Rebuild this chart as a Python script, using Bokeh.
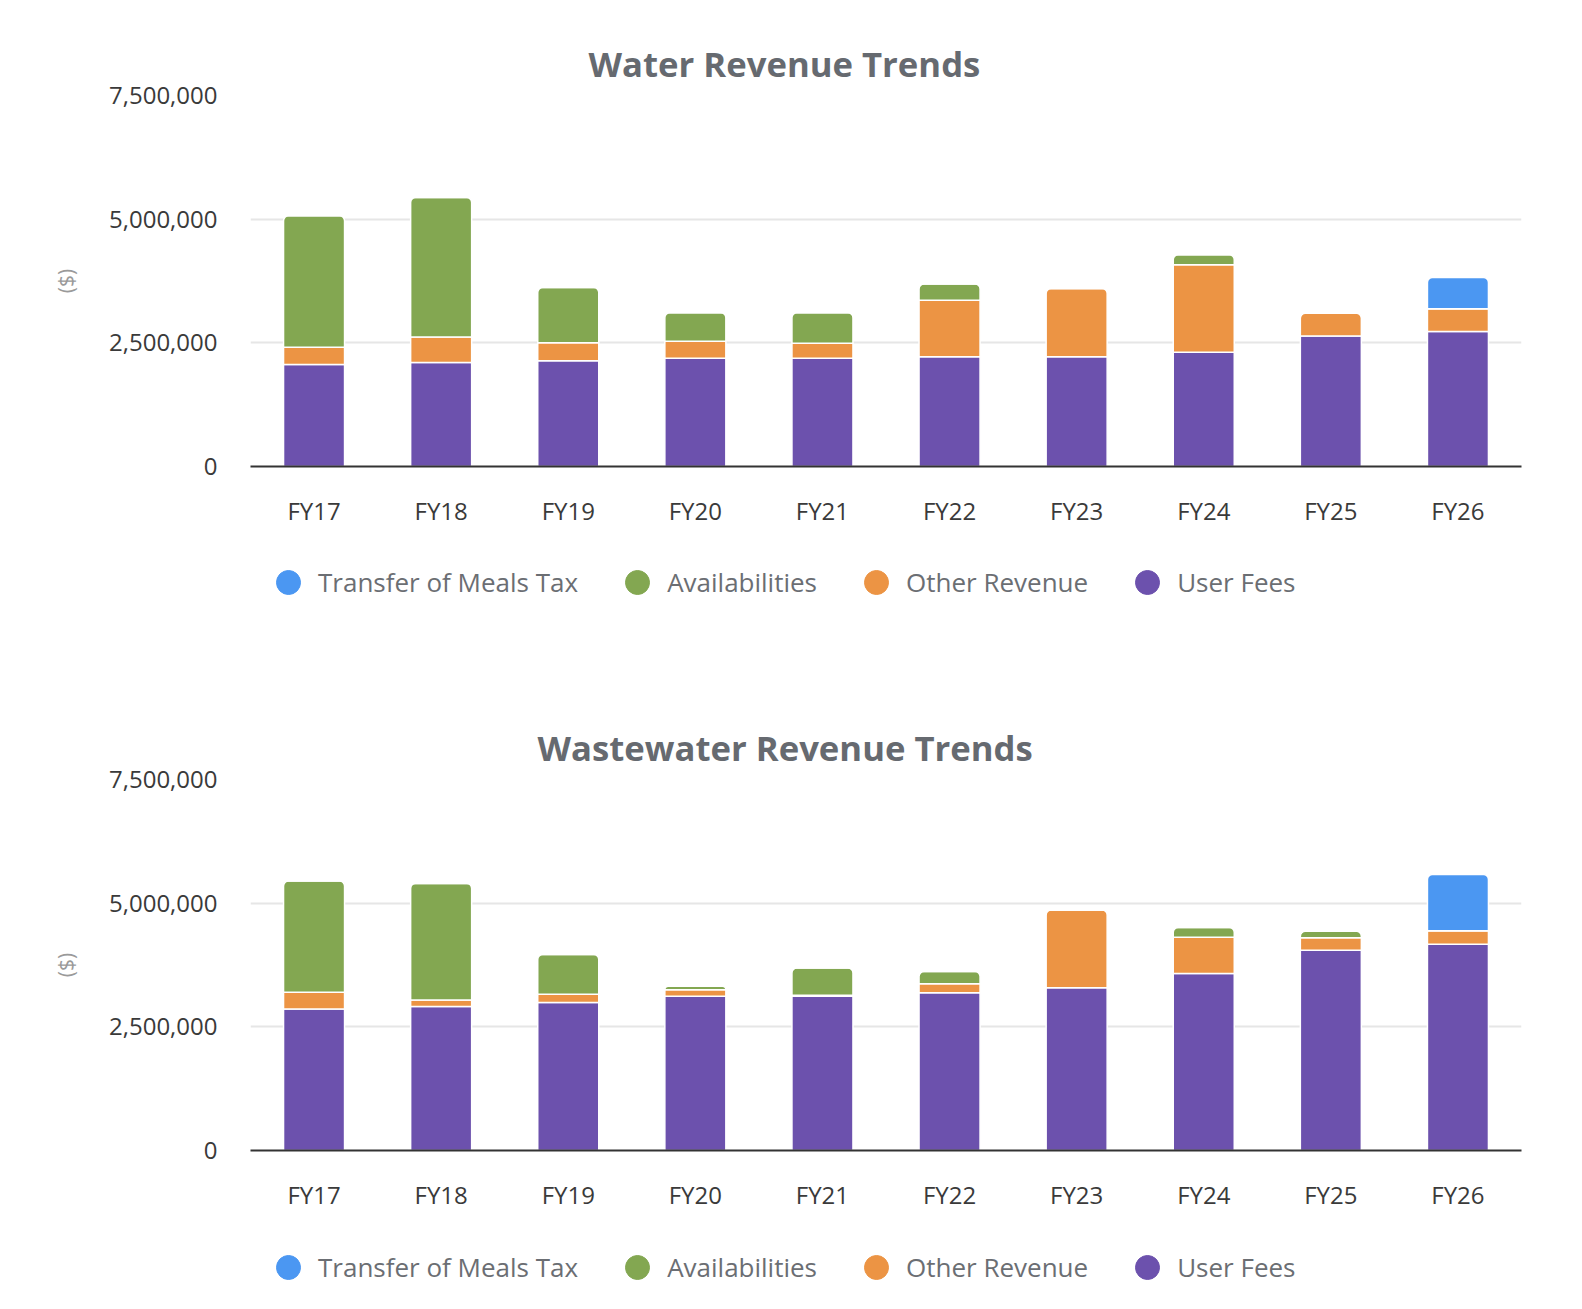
from bokeh.plotting import figure
from bokeh.models import (ColumnDataSource, FactorRange, Range1d, FixedTicker,
                          NumeralTickFormatter, Legend, LegendItem, Title)
from bokeh.layouts import column
from bokeh.embed import file_html
from bokeh.resources import INLINE

years = ["FY17", "FY18", "FY19", "FY20", "FY21", "FY22", "FY23", "FY24", "FY25", "FY26"]

# Water revenue (millions of $)
water_user_fees = [2.06, 2.10, 2.14, 2.19, 2.19, 2.22, 2.22, 2.31, 2.64, 2.73]
water_other_revenue = [0.35, 0.52, 0.36, 0.34, 0.30, 1.14, 1.38, 1.77, 0.46, 0.46]
water_availabilities = [2.66, 2.82, 1.12, 0.58, 0.62, 0.33, 0.0, 0.20, 0.0, 0.0]
water_meals_tax = [0, 0, 0, 0, 0, 0, 0, 0, 0, 0.63]

# Wastewater revenue (millions of $)
ww_user_fees = [2.86, 2.91, 2.99, 3.12, 3.12, 3.19, 3.29, 3.58, 4.05, 4.17]
ww_other_revenue = [0.34, 0.13, 0.17, 0.13, 0.02, 0.18, 1.57, 0.73, 0.25, 0.27]
ww_availabilities = [2.25, 2.36, 0.80, 0.07, 0.55, 0.25, 0.0, 0.20, 0.13, 0.0]
ww_meals_tax = [0, 0, 0, 0, 0, 0, 0, 0, 0, 1.14]

series_names = ["User Fees", "Other Revenue", "Availabilities", "Transfer of Meals Tax"]
legend_order = ["Transfer of Meals Tax", "Availabilities", "Other Revenue", "User Fees"]
y_ticks = [0, 2500000, 5000000, 7500000]

COLORS = {
    "User Fees": "#6c51ad",
    "Other Revenue": "#ec9444",
    "Availabilities": "#83a751",
    "Transfer of Meals Tax": "#4b97f2",
}

FONT = "Open Sans"
FRAME_H = 371
FIG_W = 1590


def make_chart(title, title_offset, series, top, height):
    p = figure(x_range=FactorRange(*years), y_range=Range1d(0, 7500000),
               width=FIG_W, height=height, output_backend="svg",
               toolbar_location=None, min_border_left=250, min_border_right=69,
               min_border_top=top, min_border_bottom=height - top - FRAME_H)
    p.outline_line_color = None

    # stacked segments; the topmost segment of each bar gets rounded corners
    n = len(years)
    bottoms = [0.0] * n
    topmost = [max(i for i, s in enumerate(series) if s[k] > 0) for k in range(n)]
    for si, vals in enumerate(series):
        groups = {True: dict(year=[], bottom=[], top=[]), False: dict(year=[], bottom=[], top=[])}
        for k in range(n):
            v = vals[k] * 1e6
            g = groups[topmost[k] == si]
            g["year"].append(years[k])
            g["bottom"].append(bottoms[k])
            g["top"].append(bottoms[k] + v)
            bottoms[k] += v
        c = COLORS[series_names[si]]
        p.vbar(x="year", bottom="bottom", top="top", width=0.48,
               source=ColumnDataSource(groups[False]),
               fill_color=c, line_color="white", line_width=1.5)
        p.vbar(x="year", bottom="bottom", top="top", width=0.48,
               source=ColumnDataSource(groups[True]), border_radius=(5, 5, 0, 0),
               fill_color=c, line_color="white", line_width=1.5)

    p.xgrid.grid_line_color = None
    p.ygrid.grid_line_color = "#e6e6e6"
    p.ygrid.grid_line_width = 2

    p.yaxis.ticker = FixedTicker(ticks=y_ticks)
    p.yaxis.formatter = NumeralTickFormatter(format="0,0")
    p.yaxis.axis_line_color = None
    p.yaxis.major_tick_line_color = None
    p.yaxis.minor_tick_line_color = None
    p.yaxis.major_label_text_font = FONT
    p.yaxis.major_label_text_font_size = "24px"
    p.yaxis.major_label_text_color = "#3a3a3a"
    p.yaxis.major_label_standoff = 27
    p.yaxis.axis_label = "($)"
    p.yaxis.axis_label_text_font = FONT
    p.yaxis.axis_label_text_font_style = "normal"
    p.yaxis.axis_label_text_font_size = "21px"
    p.yaxis.axis_label_text_color = "#9a9a9a"
    p.yaxis.axis_label_standoff = 26

    p.xaxis.axis_line_color = "#333333"
    p.xaxis.axis_line_width = 2
    p.xaxis.major_tick_line_color = None
    p.xaxis.minor_tick_line_color = None
    p.xaxis.major_label_text_font = FONT
    p.xaxis.major_label_text_font_size = "24px"
    p.xaxis.major_label_text_color = "#3a3a3a"
    p.xaxis.major_label_standoff = 21

    p.add_layout(Title(text=title, align="left", offset=title_offset,
                       vertical_align="bottom", standoff=18,
                       text_font=FONT, text_font_size="34.7px", text_font_style="bold",
                       text_color="#666a70"), "above")
    return p


def make_legend(height, loc_y):
    q = figure(width=FIG_W, height=height, output_backend="svg", toolbar_location=None,
               x_axis_location=None, y_axis_location=None, min_border=0,
               x_range=Range1d(0, 1), y_range=Range1d(0, 1))
    q.outline_line_color = None
    q.grid.visible = False
    items = []
    for name in legend_order:
        c = COLORS[name]
        r = q.scatter(x=[float("nan")], y=[float("nan")], marker="circle", size=24,
                      fill_color=c, line_color=c)
        items.append(LegendItem(label=name, renderers=[r]))
    legend = Legend(items=items, location=(8, loc_y), orientation="horizontal",
                    glyph_width=60, glyph_height=60, label_standoff=-4, spacing=29,
                    padding=0, margin=0, border_line_color=None,
                    background_fill_alpha=0, label_text_font=FONT,
                    label_text_font_size="26px", label_text_color="#6b6e73")
    q.add_layout(legend)
    return q


water = [water_user_fees, water_other_revenue, water_availabilities, water_meals_tax]
wastewater = [ww_user_fees, ww_other_revenue, ww_availabilities, ww_meals_tax]

p1 = make_chart("Water Revenue Trends", 338, water, 95, 540)
l1 = make_legend(145, 73)
p2 = make_chart("Wastewater Revenue Trends", 287, wastewater, 94, 539)
l2 = make_legend(90, 17)

layout = column(p1, l1, p2, l2)
open("out.html", "w").write(file_html(layout, INLINE))
